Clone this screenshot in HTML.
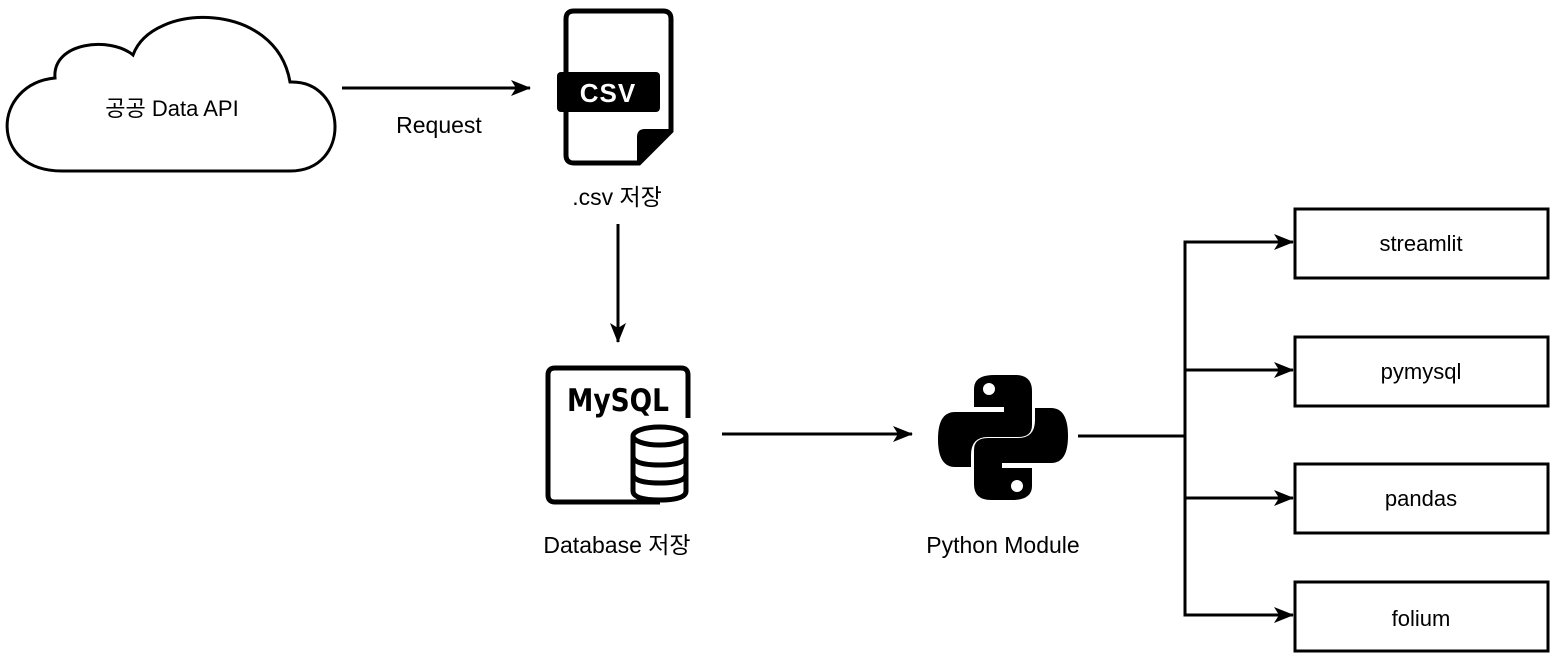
<!DOCTYPE html>
<html><head><meta charset="utf-8"><style>
html,body{margin:0;padding:0;background:#fff;}
svg text{font-family:"Liberation Sans","Noto Sans CJK KR",sans-serif;fill:#000;}
</style></head><body>
<svg width="1553" height="658" viewBox="0 0 1553 658" xmlns="http://www.w3.org/2000/svg">
<defs>
<marker id="b" viewBox="0 0 20 16" markerWidth="20" markerHeight="16" refX="19" refY="8" orient="auto" markerUnits="userSpaceOnUse">
<path d="M0,0 L20,8 L0,16 L5,8 Z" fill="#000"/></marker>
</defs>
<path d="M62 171 C -12 171, -8 84, 55 78 C 52 42, 110 36, 133 55 C 152 2, 276 0, 290 82 C 348 80, 352 171, 290 171 Z" fill="#fff" stroke="#000" stroke-width="3"/>
<text x="172" y="116" font-size="22" text-anchor="middle">공공 Data API</text>
<line x1="342" y1="88" x2="530" y2="88" stroke="#000" stroke-width="3" marker-end="url(#b)"/>
<text x="439" y="133" font-size="23" text-anchor="middle">Request</text>
<path d="M574 11 L663 11 Q671 11 671 19 L671 131 L639 163 L574 163 Q566 163 566 155 L566 19 Q566 11 574 11 Z" fill="#fff" stroke="#000" stroke-width="5"/>
<path d="M671 131 L645 131 Q639 131 639 137 L639 163 Z" fill="#000" stroke="#000" stroke-width="4" stroke-linejoin="round"/>
<rect x="557" y="72" width="103" height="40" rx="4" fill="#000"/>
<text x="608" y="102" font-size="26" font-weight="bold" text-anchor="middle" style="fill:#fff" letter-spacing="1">CSV</text>
<text x="617" y="205" font-size="23" text-anchor="middle">.csv 저장</text>
<line x1="618" y1="224" x2="618" y2="342" stroke="#000" stroke-width="3" marker-end="url(#b)"/>
<path d="M660 502 L555 502 Q548 502 548 495 L548 375 Q548 368 555 368 L681 368 Q688 368 688 375 L688 418" fill="none" stroke="#000" stroke-width="5"/>
<text x="567" y="411" font-size="31" font-weight="bold" textLength="102" lengthAdjust="spacingAndGlyphs" style="font-family:'DejaVu Sans',sans-serif">MySQL</text>
<g fill="#fff" stroke="#000" stroke-width="5">
<path d="M633 436 L633 491 Q633 500 660 500 Q686 500 686 491 L686 436"/>
<ellipse cx="659.5" cy="436" rx="26.5" ry="9"/>
<path d="M633 456 Q633 465 660 465 Q686 465 686 456" fill="none"/>
<path d="M633 474 Q633 483 660 483 Q686 483 686 474" fill="none"/>
</g>
<text x="617" y="553" font-size="23" text-anchor="middle">Database 저장</text>
<line x1="722" y1="434" x2="912" y2="434" stroke="#000" stroke-width="3" marker-end="url(#b)"/>
<g transform="translate(938,375)">
<path d="M36 14 Q36 0 56 0 L77 0 Q94 0 94 16 L94 50 Q94 62 80 62 L50 62 Q33 62 33 80 L33 92 L17 92 Q0 92 0 64 Q0 37 17 37 L66 37 L66 32 L36 32 Z" fill="#000"/>
<circle cx="51" cy="14" r="6" fill="#fff"/>
<g transform="rotate(180 65 62.5)">
<path d="M36 14 Q36 0 56 0 L77 0 Q94 0 94 16 L94 50 Q94 62 80 62 L50 62 Q33 62 33 80 L33 92 L17 92 Q0 92 0 64 Q0 37 17 37 L66 37 L66 32 L36 32 Z" fill="#000"/>
<circle cx="51" cy="14" r="6" fill="#fff"/>
</g>
</g>
<text x="1003" y="553" font-size="23" text-anchor="middle">Python Module</text>
<g stroke="#000" stroke-width="3" fill="none">
<line x1="1078" y1="436" x2="1185" y2="436"/>
<line x1="1185" y1="240.5" x2="1185" y2="616.5"/>
<line x1="1185" y1="242" x2="1293" y2="242" marker-end="url(#b)"/>
<line x1="1185" y1="370" x2="1293" y2="370" marker-end="url(#b)"/>
<line x1="1185" y1="498" x2="1293" y2="498" marker-end="url(#b)"/>
<line x1="1185" y1="615" x2="1293" y2="615" marker-end="url(#b)"/>
<rect x="1295" y="209" width="253" height="69"/>
<rect x="1295" y="337" width="253" height="69"/>
<rect x="1295" y="464" width="253" height="69"/>
<rect x="1295" y="582" width="253" height="69"/>
</g>
<text x="1421" y="251" font-size="22" text-anchor="middle">streamlit</text>
<text x="1421" y="379" font-size="22" text-anchor="middle">pymysql</text>
<text x="1421" y="506" font-size="22" text-anchor="middle">pandas</text>
<text x="1421" y="626" font-size="22" text-anchor="middle">folium</text>
</svg>
</body></html>
